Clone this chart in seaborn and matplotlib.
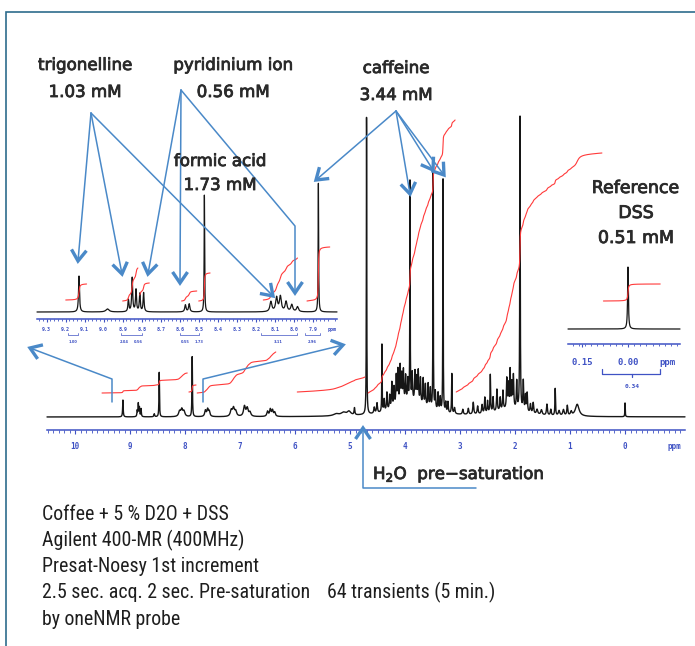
import numpy as np
import matplotlib
matplotlib.use("Agg")
import matplotlib.pyplot as plt
from matplotlib import font_manager
from matplotlib import patheffects
from matplotlib.transforms import blended_transform_factory
import seaborn as sns

# ---------------- peak tables (shift in ppm, height, half-width in ppm) ----------------
# aromatic region of the full spectrum
arom_shift = [9.13, 8.87, 8.85, 8.83, 8.80, 8.56, 8.47, 8.10, 8.06, 8.02, 7.87,
              7.63, 7.59, 7.56, 7.16, 7.12, 7.08, 6.92, 6.87, 6.82, 6.50, 6.45, 6.41, 6.37]
arom_height = [17, 6, 13, 9, 8, 3, 45, 5, 7, 5, 60,
               6, 7, 5, 6, 8, 5, 10, 8, 4, 5, 7, 6, 4]
arom_width = [0.006, 0.006, 0.006, 0.006, 0.006, 0.008, 0.005, 0.02, 0.02, 0.02, 0.005,
              0.015, 0.015, 0.015, 0.02, 0.02, 0.02, 0.02, 0.02, 0.02, 0.015, 0.015, 0.015, 0.015]

# carbohydrate / caffeine region (last entry is the broad background hump)
mid_shift = [5.25, 5.12, 5.02, 4.92, 4.70, 4.56, 4.51, 4.42, 4.38, 4.33, 4.28, 4.24, 4.20,
             4.16, 4.13, 4.09, 4.06, 4.03, 3.99, 3.95, 3.91, 3.87, 3.82, 3.79, 3.76, 3.72,
             3.67, 3.63, 3.58, 3.54, 3.49, 3.45, 3.40, 3.36, 3.31, 3.26, 3.22, 3.15, 3.10, 3.90]
mid_height = [2, 3, 4, 7, 299, 6, 10, 69, 12, 18, 14, 26, 20,
              30, 35, 38, 28, 32, 26, 22, 220, 28, 30, 24, 32, 26,
              27, 22, 24, 20, 242, 18, 18, 14, 237, 10, 11, 40, 6, 14]
mid_width = [0.06, 0.05, 0.04, 0.008, 0.004, 0.01, 0.01, 0.004, 0.008, 0.008, 0.008, 0.008, 0.008,
             0.008, 0.008, 0.008, 0.008, 0.008, 0.008, 0.008, 0.004, 0.008, 0.008, 0.008, 0.008, 0.008,
             0.008, 0.008, 0.008, 0.008, 0.004, 0.008, 0.008, 0.008, 0.004, 0.008, 0.008, 0.005, 0.01, 0.35]

# aliphatic region incl. DSS at 0 ppm (last entry is the broad background hump)
ali_shift = [2.95, 2.85, 2.76, 2.68, 2.60, 2.55, 2.50, 2.45, 2.40, 2.33, 2.27, 2.22, 2.15,
             2.12, 2.09, 2.06, 2.03, 1.97, 1.91, 1.85, 1.81, 1.78, 1.72, 1.67, 1.60, 1.52,
             1.42, 1.35, 1.27, 1.20, 1.12, 1.05, 0.98, 0.87, 0.00, 2.10]
ali_height = [5, 6, 12, 8, 9, 16, 12, 38, 15, 22, 13, 19, 30,
              24, 37, 25, 33, 28, 296, 30, 16, 19, 9, 11, 5, 5,
              11, 6, 27, 5, 6, 10, 4, 12, 14, 7]
ali_width = [0.01, 0.01, 0.01, 0.01, 0.01, 0.008, 0.008, 0.006, 0.008, 0.008, 0.008, 0.008, 0.008,
             0.008, 0.006, 0.008, 0.008, 0.008, 0.005, 0.008, 0.008, 0.008, 0.01, 0.01, 0.015, 0.015,
             0.01, 0.01, 0.006, 0.015, 0.015, 0.01, 0.015, 0.04, 0.004, 0.3]

# expanded aromatic region (inset)
exp_shift = [9.13, 8.98, 8.87, 8.85, 8.83, 8.81, 8.79, 8.57, 8.55, 8.47,
             8.12, 8.09, 8.07, 8.04, 8.01, 7.98, 7.87]
exp_height = [36, 3, 12, 34, 22, 18, 19, 7, 8, 117, 10, 14, 15, 10, 7, 5, 129]
exp_width = [0.003, 0.01, 0.003, 0.003, 0.003, 0.003, 0.003, 0.004, 0.004, 0.0015,
             0.006, 0.006, 0.006, 0.006, 0.006, 0.006, 0.0015]

# expanded DSS reference signal
dss_shift = [0.0]
dss_height = [62]
dss_width = [0.0015]

# integral regions: upper ppm, lower ppm, starting level, rise
main_int_hi = [9.51, 7.93, 7.78, 5.96, 4.67, 3.07]
main_int_lo = [7.96, 7.80, 6.35, 4.73, 3.09, 0.42]
main_int_start = [24, 25, 24, 25, 24, 25]
main_int_rise = [20, 7, 41, 15, 273, 239]

exp_int_hi = [9.20, 8.90, 8.81, 8.59, 8.50, 8.16, 7.93]
exp_int_lo = [9.09, 8.82, 8.76, 8.51, 8.44, 7.98, 7.81]
exp_int_start = [12, 11, 17, 11, 11, 12, 11]
exp_int_rise = [16, 33, 12, 10, 28, 42, 54]

dss_int_hi = [0.08]
dss_int_lo = [-0.105]
dss_int_start = [28]
dss_int_rise = [17]

# integral bracket values printed under the expansion
exp_bracket_hi = [9.19, 8.91, 8.60, 8.17, 7.94]
exp_bracket_lo = [9.135, 8.80, 8.50, 7.98, 7.86]
exp_values = [(9.16, "1.00"), (8.89, "2.04"), (8.82, "0.56"), (8.57, "0.55"),
              (8.50, "1.73"), (8.08, "3.11"), (7.90, "2.96")]

# axis labels
main_ticks = [10, 9, 8, 7, 6, 5, 4, 3, 2, 1, 0]
exp_ticks = [9.3, 9.2, 9.1, 9.0, 8.9, 8.8, 8.7, 8.6, 8.5, 8.4, 8.3, 8.2, 8.1, 8.0, 7.9]
dss_ticks = [0.15, 0.00]

# annotation texts
compounds = ["trigonelline", "pyridinium ion", "formic acid", "caffeine"]
concentrations = ["1.03 mM", "0.56 mM", "1.73 mM", "3.44 mM"]
reference_lines = ["Reference", "DSS", "0.51 mM"]
conditions = ["Coffee + 5 % D2O + DSS",
              "Agilent 400-MR (400MHz)",
              "Presat-Noesy 1st increment",
              "2.5 sec. acq. 2 sec. Pre-saturation",
              "by oneNMR probe"]
conditions_extra = "64 transients (5 min.)"

# ---------------- styling ----------------
sns.set_theme(style="white")
plt.rcParams["font.family"] = ["DejaVu Sans"]

W, H = 695, 646
AXBLUE = "#3f52c4"
INK = "#161616"
RED = "#ff3a3a"
ARROW = "#4a89c8"
TEXT = "#2a2a2a"
HEAVY = [patheffects.withStroke(linewidth=0.6, foreground=TEXT)]

fig = plt.figure(figsize=(W / 100, H / 100), dpi=100, facecolor="white")


def axes_px(left, right, top, bottom):
    return fig.add_axes([left / W, 1 - bottom / H, (right - left) / W, (bottom - top) / H])


def lorentz_sum(grid, shifts, heights, widths):
    s = np.asarray(shifts, float)[:, None]
    h = np.asarray(heights, float)[:, None]
    w = np.asarray(widths, float)[:, None]
    return (h * w ** 2 / ((grid[None, :] - s) ** 2 + w ** 2)).sum(axis=0)


def integral_curve(grid, intensity, hi, lo, start, rise):
    m = (grid <= hi) & (grid >= lo)
    c = np.cumsum(intensity[m])
    c = (c - c[0]) / (c[-1] - c[0])
    return grid[m], start + rise * c


def draw_spectrum(ax, grid, intensity, base, his, los, starts, rises, lw):
    sns.lineplot(x=grid, y=base + intensity, ax=ax, color=INK, lw=lw,
                 estimator=None, sort=False, errorbar=None, legend=False)
    for hi, lo, st, ri in zip(his, los, starts, rises):
        g, v = integral_curve(grid, intensity, hi, lo, st, ri)
        sns.lineplot(x=g, y=base + v, ax=ax, color=RED, lw=0.8,
                     estimator=None, sort=False, errorbar=None, legend=False)
    for line in ax.lines:
        line.set_clip_on(False)


def ppm_scale(ax, xlim, ylim, major, labels, minor_step, fs, maj_len, min_len, pad):
    ax.set_xlim(*xlim)
    ax.set_ylim(*ylim)
    ax.set_facecolor("none")
    for s in ("top", "left", "right"):
        ax.spines[s].set_visible(False)
    ax.spines["bottom"].set_color(AXBLUE)
    ax.spines["bottom"].set_linewidth(1.1)
    ax.set_yticks([])
    ax.set_xticks(major, labels)
    lo_, hi_ = min(xlim), max(xlim)
    minor = np.arange(np.ceil(lo_ / minor_step) * minor_step, hi_, minor_step)
    ax.set_xticks(minor, minor=True)
    ax.tick_params(axis="x", which="major", bottom=True, direction="out", length=maj_len,
                   width=0.8, color=AXBLUE, labelcolor=AXBLUE, labelsize=fs, pad=pad)
    ax.tick_params(axis="x", which="minor", bottom=True, direction="out", length=min_len,
                   width=0.6, color=AXBLUE)
    for t in ax.get_xticklabels():
        t.set_fontweight("bold")
        t.set_family("DejaVu Sans Mono")
    ax.set_xlabel("")
    ax.set_ylabel("")
    ax.grid(False)


# ---------------- full spectrum ----------------
ax_main = axes_px(47, 685, 100, 430)
g_main = np.linspace(10.51, -1.09, 9000)
full_s = arom_shift + mid_shift + ali_shift
full_h = arom_height + mid_height + ali_height
full_w = arom_width + mid_width + ali_width
i_main = lorentz_sum(g_main, full_s, full_h, full_w)
draw_spectrum(ax_main, g_main, i_main, 13, main_int_hi, main_int_lo,
              main_int_start, main_int_rise, 1.0)
ppm_scale(ax_main, (10.51, -1.09), (0, 330), main_ticks + [-0.89],
          [str(t) for t in main_ticks] + ["ppm"], 0.1, 5.5, 3.0, 1.8, 5.6)
ax_main.xaxis.get_major_ticks()[-1].tick1line.set_visible(False)

# ---------------- aromatic expansion ----------------
ax_exp = axes_px(37, 337, 150, 319)
g_exp = np.linspace(9.351, 7.772, 5000)
i_exp = lorentz_sum(g_exp, exp_shift, exp_height, exp_width)
draw_spectrum(ax_exp, g_exp, i_exp, 7, exp_int_hi, exp_int_lo,
              exp_int_start, exp_int_rise, 0.9)
ppm_scale(ax_exp, (9.351, 7.772), (0, 169), exp_ticks + [7.8],
          [f"{t:.1f}" for t in exp_ticks] + ["ppm"], 0.02, 3.6, 2.0, 1.2, 3.6)
ax_exp.xaxis.get_major_ticks()[-1].tick1line.set_visible(False)

# ---------------- DSS expansion ----------------
ax_dss = axes_px(568, 680, 250, 344)
g_dss = np.linspace(0.1954, -0.1694, 3000)
i_dss = lorentz_sum(g_dss, dss_shift, dss_height, dss_width)
draw_spectrum(ax_dss, g_dss, i_dss, 15, dss_int_hi, dss_int_lo,
              dss_int_start, dss_int_rise, 0.9)
ppm_scale(ax_dss, (0.1954, -0.1694), (0, 94), dss_ticks + [-0.127],
          ["0.15", "0.00", "ppm"], 0.02, 6.5, 2.2, 1.6, 8.0)
ax_dss.xaxis.get_major_ticks()[-1].tick1line.set_visible(False)

# ---------------- overlay in pixel coordinates ----------------
ax_o = fig.add_axes([0, 0, 1, 1])
ax_o.set_xlim(0, W)
ax_o.set_ylim(H, 0)
ax_o.axis("off")
ax_o.patch.set_alpha(0)

# page frame
ax_o.plot([6, 6, W], [H, 12, 12], color="#2e6c8c", lw=1.2, solid_joinstyle="miter")


def callout(points, head=11, half=7.5):
    xs, ys = zip(*points)
    ax_o.plot(xs, ys, color=ARROW, lw=1.1, solid_capstyle="round")
    p0 = np.array(points[-2], float)
    tip = np.array(points[-1], float)
    d = (tip - p0) / np.hypot(*(tip - p0))
    n = np.array([-d[1], d[0]])
    back = tip - d * head
    a, b = back + n * half, back - n * half
    ax_o.plot([a[0], tip[0], b[0]], [a[1], tip[1], b[1]], color=ARROW, lw=2.4,
              solid_joinstyle="miter", solid_capstyle="butt")


callouts = [
    [(91, 113), (78, 261)],
    [(91, 113), (122, 274)],
    [(91, 113), (273, 296)],
    [(181, 90), (148, 274)],
    [(181, 90), (180, 283)],
    [(181, 90), (295, 226), (295, 293)],
    [(396, 111), (316, 180)],
    [(396, 111), (410, 194)],
    [(396, 111), (433, 170)],
    [(396, 111), (444, 175)],
    [(112, 402), (112, 379), (30, 348)],
    [(203, 402), (203, 379), (343, 345)],
    [(476, 488), (363, 488), (363, 428)],
]
for c in callouts:
    callout(c)

# compound labels
label_pos = [(85, 70, 97), (233, 70, 97), (220, 166, 190), (396, 73, 100)]
for name, conc, (x, y1, y2) in zip(compounds, concentrations, label_pos):
    ax_o.text(x, y1, name, ha="center", va="baseline", fontsize=12, color=TEXT,
              path_effects=HEAVY)
    ax_o.text(x, y2, conc, ha="center", va="baseline", fontsize=12, color=TEXT,
              path_effects=HEAVY)
for s, y in zip(reference_lines, [193, 218, 243]):
    ax_o.text(636, y, s, ha="center", va="baseline", fontsize=12.5, color=TEXT,
              path_effects=HEAVY)

ax_o.text(373, 479, "H$_2$O  pre\u2212saturation", ha="left", va="baseline",
          fontsize=12, color=TEXT, path_effects=HEAVY)

# integral brackets under the aromatic expansion
tr_exp = blended_transform_factory(ax_exp.transData, ax_o.transData)
for hi, lo in zip(exp_bracket_hi, exp_bracket_lo):
    ax_o.plot([hi, hi, lo, lo], [333, 335, 335, 333], color=AXBLUE, lw=0.5, transform=tr_exp)
for x, s in exp_values:
    ax_o.text(x, 342, s, ha="center", va="center", fontsize=2.6, color=AXBLUE,
              fontweight="bold", transform=tr_exp)

tr_dss = blended_transform_factory(ax_dss.transData, ax_o.transData)
ax_o.plot([0.085, 0.085, -0.104, -0.104], [369, 374, 374, 369], color=AXBLUE, lw=0.9,
          transform=tr_dss)
ax_o.plot([-0.013, -0.013], [374, 377], color=AXBLUE, lw=0.9, transform=tr_dss)
ax_o.text(-0.013, 386, "0.34", ha="center", va="center", fontsize=4.5, color=AXBLUE,
          fontweight="bold", family="DejaVu Sans Mono", transform=tr_dss)


# acquisition conditions in a narrow face
def narrow_props():
    wanted = ["Liberation Sans Narrow", "Roboto Condensed", "DejaVu Sans Condensed"]
    for name in wanted:
        for f in font_manager.fontManager.ttflist:
            base = f.fname.lower()
            if f.name == name and "bold" not in base and "italic" not in base and "oblique" not in base:
                return font_manager.FontProperties(fname=f.fname)
    for f in font_manager.fontManager.ttflist:
        base = f.fname.lower()
        if "condensed" in base and "dejavusans" in base and "bold" not in base and "oblique" not in base:
            return font_manager.FontProperties(fname=f.fname)
    return font_manager.FontProperties(family="Liberation Sans")


fp = narrow_props()
renderer = fig.canvas.get_renderer()
targets = [(conditions[0], 191.0), (conditions[3], 265.0)]
ratios = []
for s, target in targets:
    probe = ax_o.text(42, 520, s, fontproperties=fp, fontsize=14)
    ratios.append(target / probe.get_window_extent(renderer).width)
    probe.remove()
cond_size = 14 * float(np.mean(ratios))
for s, y in zip(conditions, [520, 546, 572, 598, 625]):
    ax_o.text(42, y, s, ha="left", va="baseline", fontproperties=fp,
              fontsize=cond_size, color="#1e1e1e")
ax_o.text(327, 598, conditions_extra, ha="left", va="baseline", fontproperties=fp,
          fontsize=cond_size, color="#1e1e1e")

fig.savefig("out.png", dpi=100, facecolor="white")
